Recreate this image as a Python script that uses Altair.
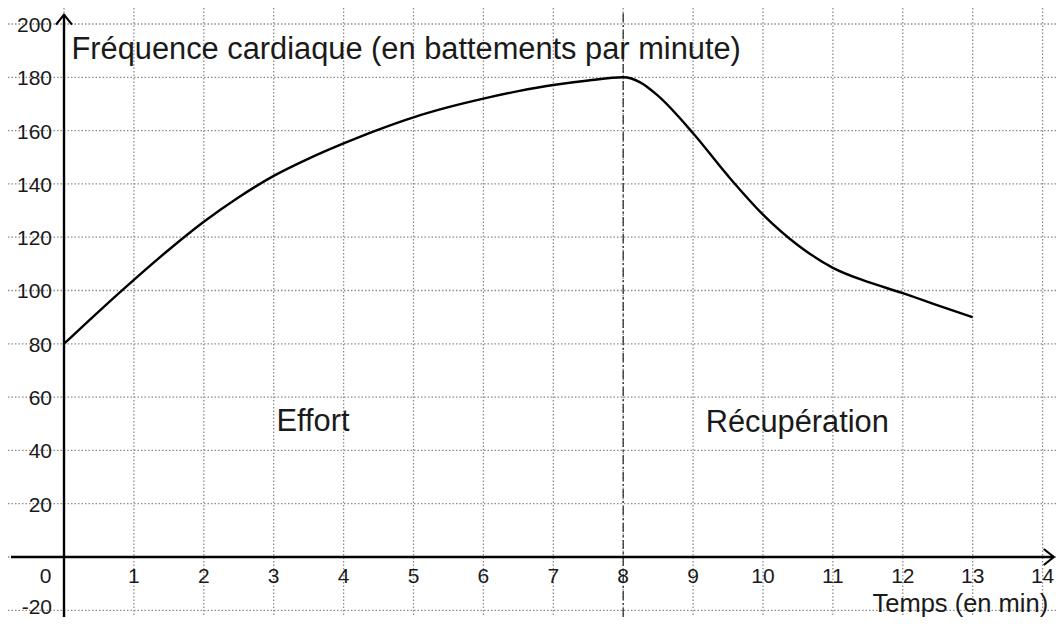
import altair as alt
import pandas as pd

# Data
time_min = [0, 0.5, 1, 1.5, 2, 2.5, 3, 3.5, 4, 4.5, 5, 5.5, 6, 6.5, 7, 7.5, 8,
            8.25, 8.5, 9, 9.5, 10, 10.5, 11, 11.5, 12, 12.5, 13]
heart_rate = [80, 92.2, 104, 115.3, 125.8, 135, 143, 149.5, 155.2, 160.4, 165, 168.8, 172, 174.8, 177.1, 178.8, 180,
              178, 173, 159, 143, 128.5, 117, 108.5, 103.2, 99, 94.4, 90]
x_ticks = [1, 2, 3, 4, 5, 6, 7, 8, 9, 10, 11, 12, 13, 14]
y_ticks = [200, 180, 160, 140, 120, 100, 80, 60, 40, 20]
y_ticks_neg = [-20]
grid_x = list(range(0, 15))
grid_y = list(range(-20, 201, 20))
boundary_time = [8]

W, H = 1048, 609
FONT = "Liberation Sans"
TICK_SIZE = 21
ANN_SIZE = 30.8
xs = alt.Scale(domain=[-0.8011, 14.1917], nice=False, zero=False)
ys = alt.Scale(domain=[-22.51, 206.0], nice=False, zero=False)

curve_df = pd.DataFrame({"t": time_min, "f": heart_rate})
gx_df = pd.DataFrame({"x": grid_x})
gy_df = pd.DataFrame({"y": grid_y})
xt_df = pd.DataFrame({"x": x_ticks, "label": [str(v) for v in x_ticks]})
yt_df = pd.DataFrame({"y": y_ticks, "label": [str(v) for v in y_ticks]})
ytn_df = pd.DataFrame({"y": y_ticks_neg, "label": [str(v) for v in y_ticks_neg]})
bd_df = pd.DataFrame({"x": boundary_time})
one = pd.DataFrame({"k": [0]})

grid_style = dict(color="#8c8c8c", strokeWidth=1.3, strokeDash=[1.5, 2])

grid_v = alt.Chart(gx_df).mark_rule(**grid_style).encode(
    x=alt.X("x:Q", scale=xs, axis=None)
)
grid_h = alt.Chart(gy_df).mark_rule(**grid_style).encode(
    y=alt.Y("y:Q", scale=ys, axis=None)
)

boundary = alt.Chart(bd_df).mark_rule(
    color="#333333", strokeWidth=1.3, strokeDash=[9, 3, 2, 3]
).encode(
    x=alt.X("x:Q", scale=xs, axis=None),
    y=alt.YDatum(-22.51, scale=ys, axis=None),
    y2=alt.Y2Datum(204),
)

y_axis_line = alt.Chart(one).mark_rule(color="black", strokeWidth=2.4).encode(
    x=alt.XDatum(0, scale=xs, axis=None),
    y=alt.YDatum(-22.51, scale=ys, axis=None),
    y2=alt.Y2Datum(203.5),
)
x_axis_line = alt.Chart(one).mark_rule(color="black", strokeWidth=2.4).encode(
    y=alt.YDatum(0, scale=ys, axis=None),
    x=alt.XDatum(-0.758, scale=xs, axis=None),
    x2=alt.X2Datum(14.16),
)
y_arrow = alt.Chart(one).mark_point(
    shape="M-0.8,1L0,0L0.8,1", filled=False, size=400, color="black", strokeWidth=2.2, opacity=1
).encode(
    x=alt.XDatum(0, scale=xs, axis=None),
    y=alt.YDatum(203.5, scale=ys, axis=None),
)
x_arrow = alt.Chart(one).mark_point(
    shape="M-1,-0.8L0,0L-1,0.8", filled=False, size=400, color="black", strokeWidth=2.2, opacity=1
).encode(
    x=alt.XDatum(14.16, scale=xs, axis=None),
    y=alt.YDatum(0, scale=ys, axis=None),
)

curve = alt.Chart(curve_df).mark_line(
    color="black", strokeWidth=2.4, interpolate="monotone"
).encode(
    x=alt.X("t:Q", scale=xs, axis=None),
    y=alt.Y("f:Q", scale=ys, axis=None),
)

x_labels = alt.Chart(xt_df).mark_text(
    font=FONT, fontSize=TICK_SIZE, color="#1a1a1a", align="center", baseline="alphabetic", dy=26
).encode(
    x=alt.X("x:Q", scale=xs, axis=None),
    y=alt.YDatum(0, scale=ys, axis=None),
    text="label:N",
)
y_labels = alt.Chart(yt_df).mark_text(
    font=FONT, fontSize=TICK_SIZE, color="#1a1a1a", align="right", baseline="middle", dx=-12, dy=2
).encode(
    x=alt.XDatum(0, scale=xs, axis=None),
    y=alt.Y("y:Q", scale=ys, axis=None),
    text="label:N",
)
y_labels_neg = alt.Chart(ytn_df).mark_text(
    font=FONT, fontSize=TICK_SIZE, color="#1a1a1a", align="right", baseline="middle", dx=-12, dy=-2
).encode(
    x=alt.XDatum(0, scale=xs, axis=None),
    y=alt.Y("y:Q", scale=ys, axis=None),
    text="label:N",
)
origin_label = alt.Chart(one).mark_text(
    font=FONT, fontSize=TICK_SIZE, color="#1a1a1a", align="center", baseline="alphabetic", dx=-18.5, dy=26, text="0"
).encode(
    x=alt.XDatum(0, scale=xs, axis=None),
    y=alt.YDatum(0, scale=ys, axis=None),
)

def annotation(txt, xv, yv, size, align="left"):
    return alt.Chart(one).mark_text(
        font=FONT, fontSize=size, color="#1a1a1a", align=align, baseline="alphabetic", text=txt
    ).encode(
        x=alt.XDatum(xv, scale=xs, axis=None),
        y=alt.YDatum(yv, scale=ys, axis=None),
    )

title_txt = annotation("Fréquence cardiaque (en battements par minute)", 0.107, 187.05, ANN_SIZE)
effort_txt = annotation("Effort", 3.04, 47.4, ANN_SIZE)
recup_txt = annotation("Récupération", 9.18, 47.0, ANN_SIZE)
temps_txt = annotation("Temps (en min)", 14.08, -20.45, 25.5, align="right")

chart = alt.layer(
    grid_v, grid_h, boundary, curve, x_axis_line, y_axis_line, y_arrow, x_arrow,
    x_labels, y_labels, y_labels_neg, origin_label, title_txt, effort_txt, recup_txt, temps_txt,
).properties(
    width=W, height=H, autosize=alt.AutoSizeParams(type="none"), padding=0,
    background="white",
).configure_view(stroke=None)

chart.save("out.html", embed_options={"renderer": "svg", "actions": False})
